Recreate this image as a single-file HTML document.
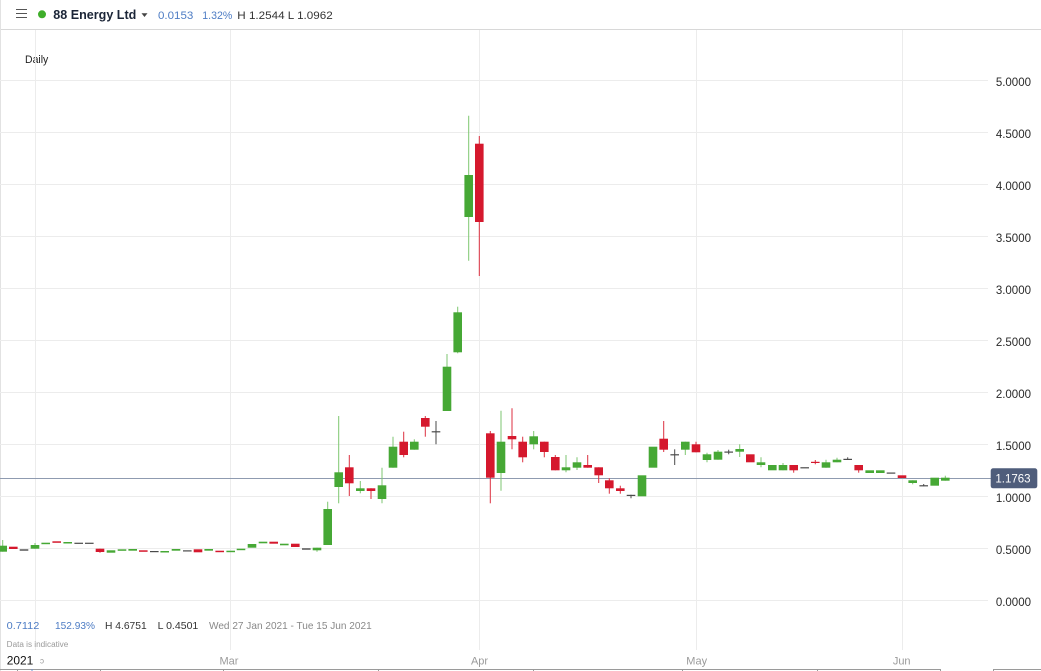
<!DOCTYPE html>
<html><head><meta charset="utf-8"><style>
html,body{margin:0;padding:0;background:#fff;}
svg{display:block;font-family:"Liberation Sans",sans-serif;}
.g{fill:#46a835}.r{fill:#d5182d}.k{fill:#4a4a4a}
.gw{stroke:#7dc670;stroke-width:1}.rw{stroke:#dc2f40;stroke-width:1}.kw{stroke:#4a4a4a;stroke-width:1}
.grid{stroke:#ececec;stroke-width:1}
.ax{font-size:11.5px;fill:#2a2a2a}
</style></head><body>
<svg width="1041" height="671" viewBox="0 0 1041 671" xmlns="http://www.w3.org/2000/svg">
<rect width="1041" height="671" fill="#fff"/>
<!-- top bar -->
<line x1="0" y1="29.5" x2="1041" y2="29.5" stroke="#d8d8d8"/>
<line x1="0.5" y1="0" x2="0.5" y2="671" stroke="#e2e2e2"/>
<line x1="16" y1="9.5" x2="27" y2="9.5" stroke="#555"/>
<line x1="16" y1="13.5" x2="27" y2="13.5" stroke="#555"/>
<line x1="16" y1="17.5" x2="27" y2="17.5" stroke="#555"/>
<circle cx="42" cy="14.3" r="4" fill="#3fae2a"/>
<text x="53.3" y="19" font-size="13" font-weight="bold" fill="#1b2537" textLength="83" lengthAdjust="spacingAndGlyphs">88 Energy Ltd</text>
<polygon points="141.5,13.3 147.5,13.3 144.5,17" fill="#444"/>
<text x="158" y="19" font-size="11" fill="#4d7cc4" textLength="35.3" lengthAdjust="spacingAndGlyphs">0.0153</text>
<text x="202.3" y="19" font-size="11" fill="#4d7cc4" textLength="30" lengthAdjust="spacingAndGlyphs">1.32%</text>
<text x="237.3" y="19" font-size="11" fill="#333" textLength="95.4" lengthAdjust="spacingAndGlyphs">H 1.2544 L 1.0962</text>
<text x="25" y="63" font-size="11" fill="#222" textLength="23.3" lengthAdjust="spacingAndGlyphs">Daily</text>
<!-- grid -->
<g class="grid">
<line x1="0" y1="80.5" x2="988" y2="80.5"/>
<line x1="0" y1="132.5" x2="988" y2="132.5"/>
<line x1="0" y1="184.5" x2="988" y2="184.5"/>
<line x1="0" y1="236.5" x2="988" y2="236.5"/>
<line x1="0" y1="288.5" x2="988" y2="288.5"/>
<line x1="0" y1="340.5" x2="988" y2="340.5"/>
<line x1="0" y1="392.5" x2="988" y2="392.5"/>
<line x1="0" y1="444.5" x2="988" y2="444.5"/>
<line x1="0" y1="496.5" x2="988" y2="496.5"/>
<line x1="0" y1="548.5" x2="988" y2="548.5"/>
<line x1="0" y1="600.5" x2="988" y2="600.5"/>
<line x1="35.5" y1="30" x2="35.5" y2="650"/>
<line x1="230.5" y1="30" x2="230.5" y2="650"/>
<line x1="479.5" y1="30" x2="479.5" y2="650"/>
<line x1="696.5" y1="30" x2="696.5" y2="650"/>
<line x1="902.5" y1="30" x2="902.5" y2="650"/>
</g>
<!-- axis labels -->
<g class="ax" text-anchor="end">
<text x="1031" y="86">5.0000</text>
<text x="1031" y="138">4.5000</text>
<text x="1031" y="190">4.0000</text>
<text x="1031" y="242">3.5000</text>
<text x="1031" y="294">3.0000</text>
<text x="1031" y="346">2.5000</text>
<text x="1031" y="398">2.0000</text>
<text x="1031" y="450">1.5000</text>
<text x="1031" y="502">1.0000</text>
<text x="1031" y="554">0.5000</text>
<text x="1031" y="606">0.0000</text>
</g>
<!-- current price line -->
<line x1="0" y1="478.5" x2="991" y2="478.5" stroke="#8f9bb0" stroke-width="1"/>
<rect x="990.7" y="468.3" width="46.6" height="20" rx="2.5" fill="#4f5d7b"/>
<text x="1013" y="482.3" font-size="11.5" fill="#fff" text-anchor="middle">1.1763</text>
<!-- candles -->
<g>
<line class="gw" x1="2.7" y1="540" x2="2.7" y2="551.7"/><rect class="g" x="-1.6" y="545.7" width="8.6" height="6"/>
<rect class="r" x="9" y="546.7" width="8.6" height="2.3"/>
<rect class="k" x="19.7" y="549.3" width="8.6" height="1.4"/>
<line class="gw" x1="35" y1="543" x2="35" y2="548.7"/><rect class="g" x="30.7" y="545" width="8.6" height="3.7"/>
<rect class="g" x="41.4" y="542.7" width="8.6" height="1.5"/>
<rect class="r" x="52.4" y="541.3" width="8.6" height="1.5"/>
<rect class="g" x="63.4" y="542" width="8.6" height="1.5"/>
<rect class="k" x="74.4" y="542.7" width="8.6" height="1.2"/>
<rect class="k" x="85" y="542.7" width="8.6" height="1.2"/>
<line class="rw" x1="100" y1="548.7" x2="100" y2="552.7"/><rect class="r" x="95.7" y="548.7" width="8.6" height="3.3"/>
<rect class="g" x="106.7" y="550.3" width="8.6" height="2.4"/>
<rect class="g" x="117.7" y="549.3" width="8.6" height="1.5"/>
<rect class="g" x="128.4" y="549" width="8.6" height="1.7"/>
<rect class="r" x="139" y="550.3" width="8.6" height="1.5"/>
<rect class="k" x="150" y="551" width="8.6" height="1.2"/>
<rect class="g" x="160.4" y="551" width="8.6" height="1.5"/>
<rect class="g" x="171.7" y="549" width="8.6" height="1.7"/>
<rect class="k" x="183" y="550.3" width="8.6" height="1.2"/>
<rect class="r" x="193.7" y="549.3" width="8.6" height="3"/>
<rect class="g" x="204.4" y="549" width="8.6" height="1.7"/>
<rect class="r" x="215.4" y="550.7" width="8.6" height="1.5"/>
<rect class="g" x="226.4" y="550.7" width="8.6" height="1.5"/>
<rect class="g" x="236.7" y="548.7" width="8.6" height="1.5"/>
<rect class="g" x="247.7" y="544" width="8.6" height="3.7"/>
<rect class="g" x="258.7" y="541.7" width="8.6" height="1.6"/>
<rect class="r" x="269.4" y="541.7" width="8.6" height="2"/>
<rect class="g" x="280" y="543.7" width="8.6" height="1.6"/>
<rect class="r" x="291" y="543.7" width="8.6" height="3.3"/>
<rect class="k" x="302" y="548.3" width="8.6" height="1.4"/>
<line class="gw" x1="317" y1="547.7" x2="317" y2="551.7"/><rect class="g" x="312.7" y="547.7" width="8.6" height="2.6"/>
<line class="gw" x1="327.7" y1="501.7" x2="327.7" y2="545"/><rect class="g" x="323.4" y="509" width="8.6" height="36"/>
<line class="gw" x1="338.7" y1="416" x2="338.7" y2="503.3"/><rect class="g" x="334.4" y="472.3" width="8.6" height="14.7"/>
<line class="rw" x1="349.3" y1="455" x2="349.3" y2="496"/><rect class="r" x="345" y="467.3" width="8.6" height="16"/>
<line class="gw" x1="360.3" y1="481" x2="360.3" y2="493.3"/><rect class="g" x="356" y="488.3" width="8.6" height="2.7"/>
<line class="rw" x1="371" y1="488.3" x2="371" y2="499"/><rect class="r" x="366.7" y="488.3" width="8.6" height="2.7"/>
<line class="gw" x1="382" y1="467.7" x2="382" y2="503.3"/><rect class="g" x="377.7" y="485.3" width="8.6" height="13.7"/>
<line class="gw" x1="393" y1="436.7" x2="393" y2="467.7"/><rect class="g" x="388.7" y="446.7" width="8.6" height="21"/>
<line class="rw" x1="403.7" y1="431.7" x2="403.7" y2="457.3"/><rect class="r" x="399.4" y="441.7" width="8.6" height="13.3"/>
<line class="gw" x1="414.3" y1="439.3" x2="414.3" y2="449.7"/><rect class="g" x="410" y="441.7" width="8.6" height="8"/>
<line class="rw" x1="425.3" y1="416" x2="425.3" y2="436.7"/><rect class="r" x="421" y="418" width="8.6" height="8.7"/>
<line class="kw" x1="436" y1="421" x2="436" y2="444.3"/><rect class="k" x="431.7" y="431.2" width="8.6" height="1.2"/>
<line class="gw" x1="447" y1="354" x2="447" y2="411"/><rect class="g" x="442.7" y="366.7" width="8.6" height="44.3"/>
<line class="gw" x1="457.7" y1="306.7" x2="457.7" y2="353.3"/><rect class="g" x="453.4" y="312.3" width="8.6" height="40"/>
<line class="gw" x1="468.7" y1="115.7" x2="468.7" y2="260.7"/><rect class="g" x="464.4" y="175" width="8.6" height="42"/>
<line class="rw" x1="479.3" y1="136" x2="479.3" y2="276"/><rect class="r" x="475" y="143.7" width="8.6" height="78.3"/>
<line class="rw" x1="490.3" y1="431" x2="490.3" y2="503.3"/><rect class="r" x="486" y="433.3" width="8.6" height="44.4"/>
<line class="gw" x1="501" y1="410.7" x2="501" y2="490.7"/><rect class="g" x="496.7" y="441.7" width="8.6" height="31.3"/>
<line class="rw" x1="512" y1="408.3" x2="512" y2="449.3"/><rect class="r" x="507.7" y="436" width="8.6" height="3.3"/>
<line class="rw" x1="522.7" y1="436.7" x2="522.7" y2="462.3"/><rect class="r" x="518.4" y="441.7" width="8.6" height="15.6"/>
<line class="gw" x1="533.7" y1="431" x2="533.7" y2="449.3"/><rect class="g" x="529.4" y="436.3" width="8.6" height="8"/>
<line class="rw" x1="544.3" y1="441.7" x2="544.3" y2="457.3"/><rect class="r" x="540" y="441.7" width="8.6" height="10.3"/>
<line class="rw" x1="555.3" y1="455" x2="555.3" y2="470.3"/><rect class="r" x="551" y="457" width="8.6" height="13.3"/>
<line class="gw" x1="566" y1="455" x2="566" y2="472.3"/><rect class="g" x="561.7" y="467.3" width="8.6" height="3"/>
<line class="gw" x1="577" y1="457.3" x2="577" y2="470"/><rect class="g" x="572.7" y="462.3" width="8.6" height="5.4"/>
<line class="rw" x1="587.7" y1="455" x2="587.7" y2="467.7"/><rect class="r" x="583.4" y="465" width="8.6" height="2.7"/>
<line class="rw" x1="598.7" y1="467.3" x2="598.7" y2="483"/><rect class="r" x="594.4" y="467.3" width="8.6" height="8"/>
<line class="rw" x1="609.3" y1="478.3" x2="609.3" y2="493.7"/><rect class="r" x="605" y="480.3" width="8.6" height="8"/>
<line class="rw" x1="620.3" y1="485.7" x2="620.3" y2="493.7"/><rect class="r" x="616" y="488.3" width="8.6" height="2.7"/>
<line class="kw" x1="631" y1="494.8" x2="631" y2="498.3"/><rect class="k" x="626.7" y="494.8" width="8.6" height="1.2"/>
<rect class="g" x="637.7" y="475.3" width="8.6" height="21"/>
<rect class="g" x="648.7" y="446.7" width="8.6" height="21"/>
<line class="rw" x1="663.7" y1="421" x2="663.7" y2="452"/><rect class="r" x="659.4" y="438.7" width="8.6" height="11"/>
<line class="kw" x1="674.7" y1="449.3" x2="674.7" y2="465"/><rect class="k" x="670.4" y="454.2" width="8.6" height="1.2"/>
<line class="gw" x1="685.3" y1="441.7" x2="685.3" y2="455"/><rect class="g" x="681" y="441.7" width="8.6" height="8"/>
<line class="rw" x1="696" y1="441.7" x2="696" y2="452.3"/><rect class="r" x="691.7" y="444.3" width="8.6" height="8"/>
<line class="gw" x1="707" y1="452.7" x2="707" y2="462.3"/><rect class="g" x="702.7" y="454.3" width="8.6" height="5.7"/>
<line class="gw" x1="718" y1="450" x2="718" y2="459.7"/><rect class="g" x="713.7" y="451.7" width="8.6" height="8"/>
<line class="kw" x1="728.7" y1="449.7" x2="728.7" y2="454.3"/><rect class="k" x="724.4" y="451.5" width="8.6" height="1.2"/>
<line class="gw" x1="739.7" y1="444.3" x2="739.7" y2="457"/><rect class="g" x="735.4" y="449" width="8.6" height="2.7"/>
<rect class="r" x="746" y="454.3" width="8.6" height="8"/>
<line class="gw" x1="761" y1="457.3" x2="761" y2="467.3"/><rect class="g" x="756.7" y="462.3" width="8.6" height="2.7"/>
<rect class="g" x="768" y="465" width="8.6" height="5.3"/>
<line class="gw" x1="783" y1="463" x2="783" y2="470.3"/><rect class="g" x="778.7" y="465" width="8.6" height="5.3"/>
<line class="rw" x1="793.7" y1="465" x2="793.7" y2="472.7"/><rect class="r" x="789.4" y="465" width="8.6" height="5.3"/>
<rect class="k" x="800.4" y="467.2" width="8.6" height="1.2"/>
<line class="rw" x1="815.3" y1="460" x2="815.3" y2="464.3"/><rect class="r" x="811" y="461.8" width="8.6" height="1.2"/>
<line class="gw" x1="826" y1="459.7" x2="826" y2="467.7"/><rect class="g" x="821.7" y="462.3" width="8.6" height="5.4"/>
<line class="gw" x1="837" y1="457.7" x2="837" y2="462.3"/><rect class="g" x="832.7" y="459.7" width="8.6" height="2.6"/>
<line class="kw" x1="847.7" y1="457.3" x2="847.7" y2="459.8"/><rect class="k" x="843.4" y="458.8" width="8.6" height="1.2"/>
<line class="rw" x1="858.7" y1="465" x2="858.7" y2="472.7"/><rect class="r" x="854.4" y="465" width="8.6" height="5.3"/>
<rect class="g" x="865.4" y="470.3" width="8.6" height="2.7"/>
<rect class="g" x="876" y="470.3" width="8.6" height="2.7"/>
<rect class="k" x="886.7" y="472.5" width="8.6" height="1.2"/>
<rect class="r" x="897.7" y="475.3" width="8.6" height="2.7"/>
<line class="gw" x1="912.7" y1="480.3" x2="912.7" y2="484.3"/><rect class="g" x="908.4" y="480.3" width="8.6" height="2.7"/>
<line class="kw" x1="923.7" y1="484" x2="923.7" y2="486.2"/><rect class="k" x="919.4" y="485.2" width="8.6" height="1.2"/>
<rect class="g" x="930.4" y="477.7" width="8.6" height="8"/>
<line class="gw" x1="945.3" y1="475.7" x2="945.3" y2="480.7"/><rect class="g" x="941" y="477.7" width="8.6" height="3"/>
</g>
<!-- bottom info -->
<text x="6.7" y="629" font-size="10.5" fill="#4d7cc4" textLength="32.6" lengthAdjust="spacingAndGlyphs">0.7112</text>
<text x="55" y="629" font-size="10.5" fill="#4d7cc4" textLength="40" lengthAdjust="spacingAndGlyphs">152.93%</text>
<text x="105" y="629" font-size="10.5" fill="#333" textLength="41.7" lengthAdjust="spacingAndGlyphs">H 4.6751</text>
<text x="157.7" y="629" font-size="10.5" fill="#333" textLength="40.6" lengthAdjust="spacingAndGlyphs">L 0.4501</text>
<text x="209" y="629" font-size="10.5" fill="#888" textLength="162.7" lengthAdjust="spacingAndGlyphs">Wed 27 Jan 2021 - Tue 15 Jun 2021</text>
<text x="6.7" y="647" font-size="8" fill="#9a9a9a" textLength="61.6" lengthAdjust="spacingAndGlyphs">Data is indicative</text>
<text x="6.7" y="664.5" font-size="12" fill="#111" textLength="26.6" lengthAdjust="spacingAndGlyphs">2021</text>
<text x="40" y="663.5" font-size="8" fill="#999">ↄ</text>
<g font-size="11" fill="#9a9a9a" text-anchor="middle">
<text x="229" y="664.5">Mar</text>
<text x="479.5" y="664.5">Apr</text>
<text x="696.7" y="664.5">May</text>
<text x="901.7" y="664.5">Jun</text>
</g>
<!-- bottom strip -->
<g stroke="#9a9a9a" stroke-width="1">
<line x1="0" y1="669.5" x2="941" y2="669.5"/>
<line x1="993" y1="669.5" x2="1041" y2="669.5"/>
<line x1="17.5" y1="669" x2="17.5" y2="671"/>
<line x1="100.5" y1="669" x2="100.5" y2="671"/>
<line x1="223.5" y1="669" x2="223.5" y2="671"/>
<line x1="378.5" y1="669" x2="378.5" y2="671"/>
<line x1="533.5" y1="669" x2="533.5" y2="671"/>
<line x1="682.5" y1="669" x2="682.5" y2="671"/>
<line x1="817.5" y1="669" x2="817.5" y2="671"/>
<line x1="940.5" y1="669" x2="940.5" y2="671"/>
<line x1="993.5" y1="669" x2="993.5" y2="671"/>
</g>
<line x1="32" y1="669" x2="32" y2="671" stroke="#6a8fd0"/>
</svg>
</body></html>
